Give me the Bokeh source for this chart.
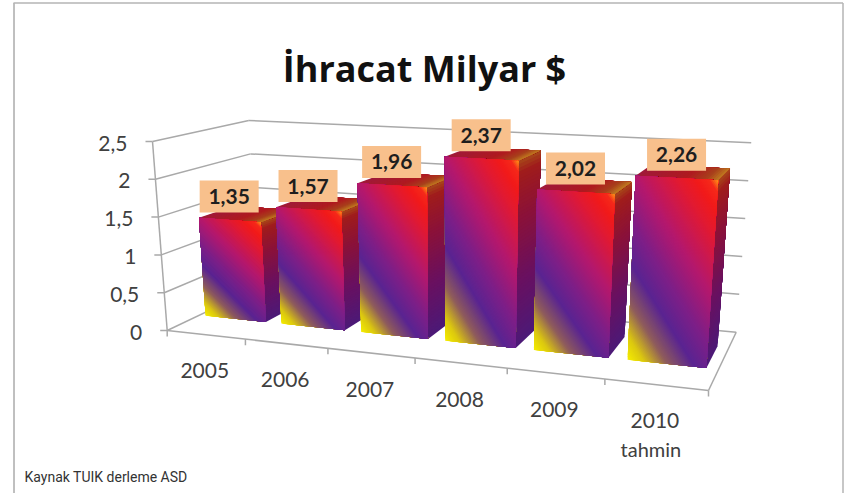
import numpy as np
from bokeh.plotting import figure
from bokeh.models import ColumnDataSource, Range1d
from bokeh.core.properties import value
from bokeh.embed import file_html
from bokeh.resources import INLINE

years = ["2005", "2006", "2007", "2008", "2009", "2010"]
year_note = "tahmin"
export_values = [1.35, 1.57, 1.96, 2.37, 2.02, 2.26]
value_labels = ["1,35", "1,57", "1,96", "2,37", "2,02", "2,26"]
axis_ticks = [0, 0.5, 1, 1.5, 2, 2.5]
axis_tick_labels = ["0", "0,5", "1", "1,5", "2", "2,5"]
title_text = "İhracat Milyar $"
source_text = "Kaynak TUIK derleme ASD"

# 3D box of the chart, as seen on the page: (front-left, front-right, back-left, back-right)
FLOOR = [(166.7, 330), (708, 390), (257, 287), (735.7, 331.7)]
ROOF = [(152, 141), (721, 171), (248.3, 120), (750.7, 142.3)]
VMAX = 2.5
BAR_L, BAR_R = 0.42, 0.38
D0, D1 = 0.33, 0.71


def homography(q):
    src = [(0, 0), (1, 0), (0, 1), (1, 1)]
    A, b = [], []
    for (x, y), (X, Y) in zip(src, q):
        A.append([x, y, 1, 0, 0, 0, -x * X, -y * X])
        A.append([0, 0, 0, x, y, 1, -x * Y, -y * Y])
        b += [X, Y]
    return np.append(np.linalg.solve(np.array(A, float), np.array(b, float)), 1).reshape(3, 3)


HF, HR = homography(FLOOR), homography(ROOF)


def apply(H, u, d):
    w = H[2, 0] * u + H[2, 1] * d + H[2, 2]
    return np.array([(H[0, 0] * u + H[0, 1] * d + H[0, 2]) / w, (H[1, 0] * u + H[1, 1] * d + H[1, 2]) / w])


def P(u, d, val):
    t = val / VMAX
    return (1 - t) * apply(HF, u, d) + t * apply(HR, u, d)


def hexrgb(s):
    return [int(s[i:i + 2], 16) for i in (1, 3, 5)]


def ramp(stops, t):
    pos = [a for a, _ in stops]
    cols = np.array([hexrgb(c) for _, c in stops], float)
    r, g, b = (np.interp(t, pos, cols[:, i]) for i in range(3))
    return "#%02x%02x%02x" % (int(r), int(g), int(b))


FRONT = [(0, "#f6ee00"), (0.08, "#dcc810"), (0.19, "#8f5c5c"), (0.32, "#5a2492"), (0.45, "#7d1f88"),
         (0.62, "#b4186e"), (0.8, "#e01a35"), (0.9, "#f21a1a"), (0.96, "#f62a1a"), (1, "#ff9a18")]
SIDE = [(0, "#4c1a78"), (0.35, "#6a1060"), (0.7, "#8c1238"), (0.93, "#a01c1c"), (1, "#a8481a")]
TOP = [(0, "#a01a3a"), (0.6, "#b01a20"), (0.85, "#a8401c"), (1, "#c07a20")]

xs, ys, cols = [], [], []


def clip_above(poly, f, level):
    """Part of a convex polygon of (a, b) points where f(a, b) >= level."""
    out = []
    for k in range(len(poly)):
        p0, p1 = poly[k], poly[(k + 1) % len(poly)]
        s0, s1 = f(*p0) - level, f(*p1) - level
        if s0 >= 0:
            out.append(p0)
        if s0 * s1 < 0:
            t = s0 / (s0 - s1)
            out.append((p0[0] + t * (p1[0] - p0[0]), p0[1] + t * (p1[1] - p0[1])))
    return out


def gradient_face(corner, n, stops, f):
    """A face painted as nested layers, each one covering the part of the face with f >= its level."""
    square = [(0, 0), (1, 0), (1, 1), (0, 1)]
    for k in range(n):
        poly = clip_above(square, f, k / n)
        if len(poly) >= 3:
            pts = [corner(a, b) for a, b in poly]
            xs.append([float(q[0]) for q in pts])
            ys.append([float(q[1]) for q in pts])
            cols.append(ramp(stops, (k + 0.5) / n))


for i, v in enumerate(export_values):
    u0 = (i + 0.5 - BAR_L) / 6
    u1 = (i + 0.5 + BAR_R) / 6
    gradient_face(lambda a, b: P(u1, D0 + a * (D1 - D0), b * v), 50, SIDE, lambda a, b: b)
    gradient_face(lambda a, b: P(u0 + a * (u1 - u0), D0 + b * (D1 - D0), v), 30, TOP, lambda a, b: a)
    gradient_face(lambda a, b: P(u0 + a * (u1 - u0), D0, b * v), 110, FRONT, lambda a, b: (0.6 * a + b) / 1.6)

p = figure(width=849, height=493, output_backend="svg", toolbar_location=None,
           x_range=Range1d(0, 849), y_range=Range1d(493, 0), min_border=0,
           x_axis_type="linear", background_fill_color="white")
p.axis.visible = False
p.grid.visible = False
p.outline_line_color = None

GRID = "#a9a9a9"
# page frame
p.line([13.5, 13.5], [2.5, 493], line_color="#808080", line_width=1)
p.line([13, 842.5], [2.5, 2.5], line_color="#b5b5b5", line_width=1.5)
p.line([842.5, 842.5], [2.5, 493], line_color="#b5b5b5", line_width=1.5)

# walls and floor
seg_x, seg_y = [], []


def seg(a, b):
    seg_x.append([float(a[0]), float(b[0])])
    seg_y.append([float(a[1]), float(b[1])])


for t in axis_ticks:
    seg(P(0, 1, t), P(1, 1, t))
    seg(P(0, 0, t), P(0, 1, t))
    seg(P(0, 0, t) + np.array([-7, 0]), P(0, 0, t))
seg(P(0, 0, 0), P(0, 0, VMAX))
seg(P(0, 0, 0), P(1, 0, 0))
seg(P(1, 0, 0), P(1, 1, 0))
for k in range(7):
    base = P(k / 6, 0, 0)
    seg(base, base + np.array([0, 6]))
p.multi_line(seg_x, seg_y, line_color=GRID, line_width=1.5)

p.patches("xs", "ys", fill_color="c", line_color=None,
          source=ColumnDataSource(dict(xs=xs, ys=ys, c=cols)))

# value boxes
cx, cy = [], []
for i, v in enumerate(export_values):
    q = P((i + 0.5) / 6, D0, v)
    cx.append(float(q[0]) - 2)
    cy.append(float(q[1]) - 23.5)
p.rect(cx, cy, width=59, height=32, fill_color="#f8c08c", line_color=None)
p.text(cx, cy, text=value_labels, text_font=value("Lato"), text_font_style="bold", text_font_size="21px",
       text_color="#1e1e1e", text_align="center", text_baseline="middle")

# axis labels
lx, ly = [], []
for t in axis_ticks:
    q = P(0, 0, t)
    lx.append(float(q[0]) - 25)
    ly.append(float(q[1]) + 1.5)
p.text(lx, ly, text=axis_tick_labels, text_font=value("Lato"), text_font_size="21px", text_color="#404040",
       text_align="right", text_baseline="middle")

yx, yy = [], []
for i in range(len(years)):
    q = P((i + 0.5) / 6, 0, 0)
    yx.append(float(q[0]) - 1)
    yy.append(float(q[1]) + 36)
p.text(yx, yy, text=years, text_font=value("Lato"), text_font_size="21px", text_color="#404040",
       text_align="center", text_baseline="middle")
p.text([yx[-1] - 4], [yy[-1] + 28], text=[year_note], text_font=value("Lato"), text_font_size="20px",
       text_color="#404040", text_align="center", text_baseline="middle")

p.text([424], [68], text=[title_text], text_font=value("Open Sans"), text_font_style="bold", text_font_size="36px",
       text_color="#111111", text_align="center", text_baseline="middle")
p.text([24], [476], text=[source_text], text_font=value("Roboto"), text_font_size="14px",
       text_color="#333333", text_align="left", text_baseline="middle")

open("out.html", "w").write(file_html(p, INLINE))
